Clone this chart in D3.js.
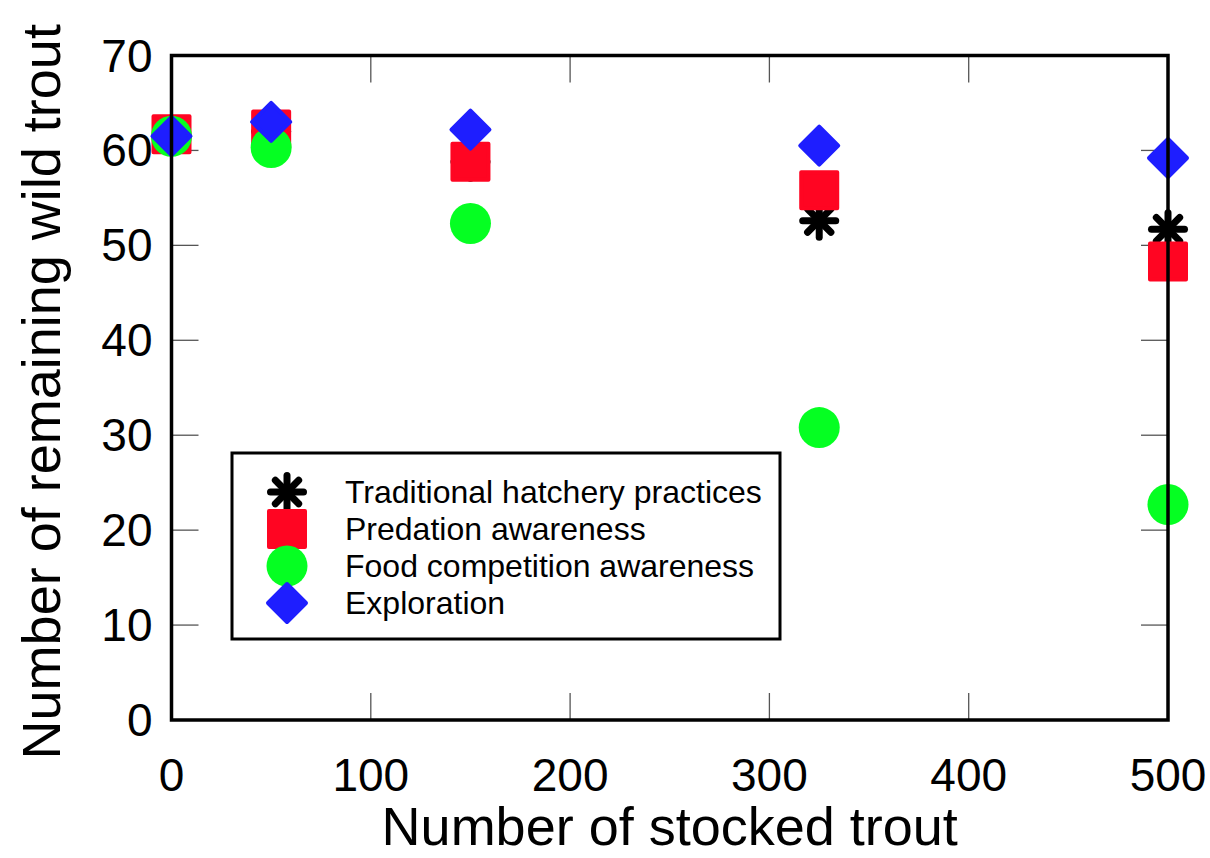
<!DOCTYPE html>
<html>
<head>
<meta charset="utf-8">
<script src="https://cdn.jsdelivr.net/npm/d3@7"></script>
<style>
  body { margin: 0; background: #fff; }
  text { font-family: "Liberation Sans", Arial, sans-serif; fill: #000; }
</style>
</head>
<body>
<div id="chart"></div>
<script>
// ------------------------------------
// Data
// ------------------------------------
const stocked = [0, 50, 150, 325, 500];
const traditional = [61.5, 62.0, 58.8, 52.6, 51.7];
const predation = [61.7, 62.2, 58.8, 55.8, 48.3];
const foodComp = [61.5, 60.3, 52.3, 30.8, 22.7];
const exploration = [61.5, 63.0, 62.2, 60.5, 59.2];

const seriesNames = ["Traditional hatchery practices", "Predation awareness",
  "Food competition awareness", "Exploration"];
const seriesValues = [traditional, predation, foodComp, exploration];
const seriesColors = ["#000000", "#ff0522", "#05ff22", "#1e1eff"];
const seriesShapes = ["star", "square", "circle", "diamond"];

const xTicks = [0, 100, 200, 300, 400, 500];
const yTicks = [0, 10, 20, 30, 40, 50, 60, 70];

// ------------------------------------
// Layout
// ------------------------------------
const width = 1210, height = 858;
const margin = { left: 171.5, right: 42, top: 55.5, bottom: 138 };

const svg = d3.select("#chart").append("svg")
    .attr("width", width)
    .attr("height", height);

const x = d3.scaleLinear().domain([0, 500]).range([margin.left, width - margin.right]);
const y = d3.scaleLinear().domain([0, 70]).range([height - margin.bottom, margin.top]);

const tickLen = 27;

// inward ticks on all four sides
const grid = svg.append("g").attr("stroke", "#555").attr("stroke-width", 1.3);
xTicks.forEach(t => {
  grid.append("line").attr("x1", x(t)).attr("x2", x(t))
      .attr("y1", y(0)).attr("y2", y(0) - tickLen);
  grid.append("line").attr("x1", x(t)).attr("x2", x(t))
      .attr("y1", y(70)).attr("y2", y(70) + tickLen);
});
yTicks.forEach(t => {
  grid.append("line").attr("x1", x(0)).attr("x2", x(0) + tickLen)
      .attr("y1", y(t)).attr("y2", y(t));
  grid.append("line").attr("x1", x(500)).attr("x2", x(500) - tickLen)
      .attr("y1", y(t)).attr("y2", y(t));
});

// tick labels
svg.append("g").selectAll("text")
    .data(xTicks).enter().append("text")
    .attr("x", d => x(d))
    .attr("y", y(0) + 71)
    .attr("text-anchor", "middle")
    .style("font-size", "46px")
    .text(d => d);

svg.append("g").selectAll("text")
    .data(yTicks).enter().append("text")
    .attr("x", x(0) - 19)
    .attr("y", d => y(d) + 16)
    .attr("text-anchor", "end")
    .style("font-size", "46px")
    .text(d => d);

// axis titles
svg.append("text")
    .attr("x", (x(0) + x(500)) / 2)
    .attr("y", 845)
    .attr("text-anchor", "middle")
    .style("font-size", "54px")
    .text("Number of stocked trout");

svg.append("text")
    .attr("transform", `translate(60,${(y(0) + y(70)) / 2 + 4}) rotate(-90)`)
    .attr("text-anchor", "middle")
    .style("font-size", "54px")
    .text("Number of remaining wild trout");

// ------------------------------------
// Markers
// ------------------------------------
function drawMarker(g, shape, color, cx, cy) {
  if (shape === "square") {
    g.append("rect")
        .attr("x", cx - 18).attr("y", cy - 18)
        .attr("width", 36).attr("height", 36)
        .attr("fill", color).attr("stroke", color)
        .attr("stroke-width", 4).attr("stroke-linejoin", "round");
  } else if (shape === "circle") {
    g.append("circle")
        .attr("cx", cx).attr("cy", cy).attr("r", 20.5)
        .attr("fill", color);
  } else if (shape === "diamond") {
    const r = 19;
    g.append("path")
        .attr("d", `M${cx},${cy - r}L${cx + r},${cy}L${cx},${cy + r}L${cx - r},${cy}Z`)
        .attr("fill", color).attr("stroke", color)
        .attr("stroke-width", 4).attr("stroke-linejoin", "round");
  } else if (shape === "star") {
    const r = 16.5;
    [0, 45, 90, 135].forEach(a => {
      const dx = r * Math.cos(a * Math.PI / 180), dy = r * Math.sin(a * Math.PI / 180);
      g.append("line")
          .attr("x1", cx - dx).attr("y1", cy - dy)
          .attr("x2", cx + dx).attr("y2", cy + dy)
          .attr("stroke", color).attr("stroke-width", 7)
          .attr("stroke-linecap", "round");
    });
  }
}

const marks = svg.append("g");
seriesValues.forEach((vals, i) => {
  vals.forEach((v, j) => {
    drawMarker(marks, seriesShapes[i], seriesColors[i], x(stocked[j]), y(v));
  });
});

// frame
svg.append("rect")
    .attr("x", x(0)).attr("y", y(70))
    .attr("width", x(500) - x(0)).attr("height", y(0) - y(70))
    .attr("fill", "none").attr("stroke", "#000").attr("stroke-width", 3.5);

// ------------------------------------
// Legend
// ------------------------------------
const legend = svg.append("g");
legend.append("rect")
    .attr("x", 232).attr("y", 453)
    .attr("width", 548).attr("height", 186)
    .attr("fill", "#fff").attr("stroke", "#000").attr("stroke-width", 3);

seriesNames.forEach((name, i) => {
  const ly = 492 + i * 37;
  drawMarker(legend, seriesShapes[i], seriesColors[i], 287, ly);
  legend.append("text")
      .attr("x", 345).attr("y", ly + 11)
      .style("font-size", "32px")
      .text(name);
});
</script>
</body>
</html>
